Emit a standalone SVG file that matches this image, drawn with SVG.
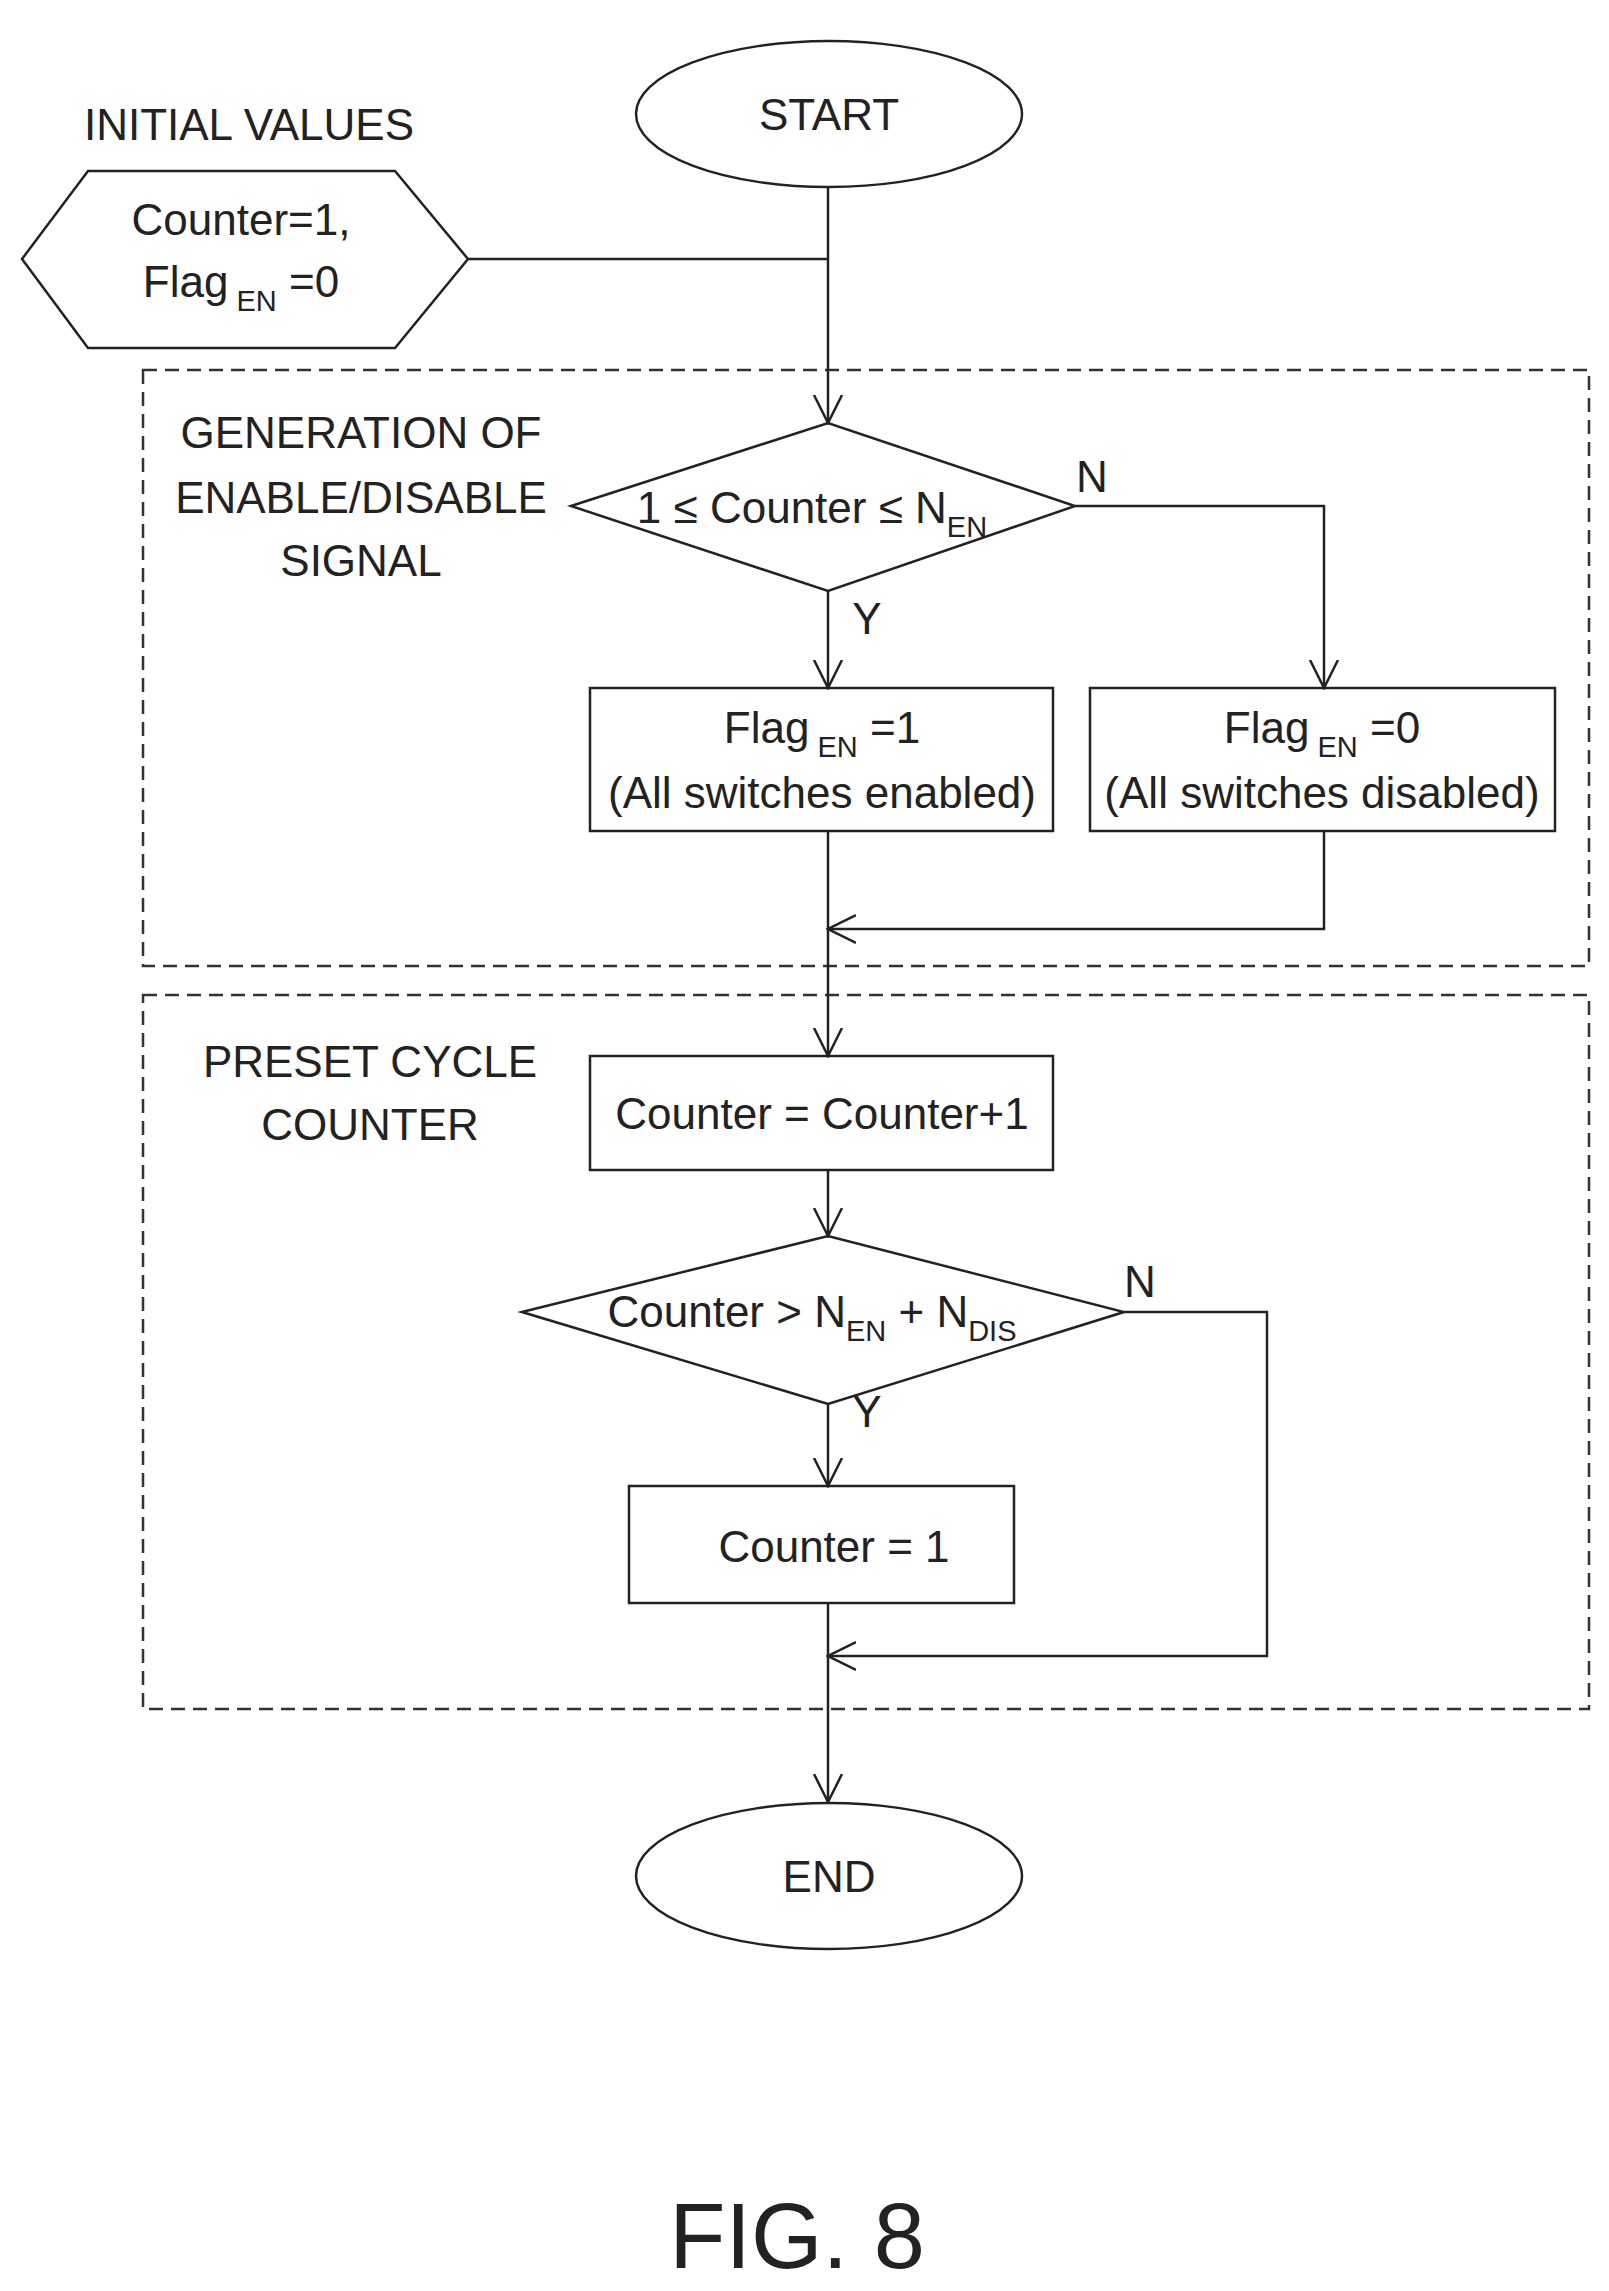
<svg xmlns="http://www.w3.org/2000/svg" width="1609" height="2291" viewBox="0 0 1609 2291">
<style>
.s{fill:none;stroke:#222;stroke-width:2.5}
.d{fill:none;stroke:#333;stroke-width:2.5;stroke-dasharray:14 8}
text{font-family:"Liberation Sans",Arial,sans-serif;font-size:44px;fill:#222;text-anchor:middle}
.sub{font-size:29px}
</style>
<defs>
<marker id="a" markerWidth="30" markerHeight="40" refX="28" refY="20" orient="auto" markerUnits="userSpaceOnUse">
<path d="M0,6 L28,20 L0,34" fill="none" stroke="#222" stroke-width="2.5"/>
</marker>
</defs>
<rect width="1609" height="2291" fill="#fff"/>
<g id="groups">
<rect class="d" x="143" y="370" width="1446" height="596"/>
<rect class="d" x="143" y="995" width="1446" height="714"/>
<text x="361" y="448">GENERATION OF</text>
<text x="361" y="513">ENABLE/DISABLE</text>
<text x="361" y="576">SIGNAL</text>
<text x="370" y="1077">PRESET CYCLE</text>
<text x="370" y="1140">COUNTER</text>
</g>
<g id="start"><ellipse class="s" cx="829" cy="114" rx="193" ry="73"/><text x="829" y="130">START</text></g>
<g id="init">
<text x="249" y="140">INITIAL VALUES</text>
<polygon class="s" points="22,259 88,171 395,171 468,259 395,348 88,348"/>
<text x="241" y="235">Counter=1,</text>
<text x="241" y="297">Flag<tspan class="sub" dy="14"> EN</tspan><tspan dy="-14"> =0</tspan></text>
</g>
<g id="dec1">
<polygon class="s" points="571,506 828,423 1075,506 828,591"/>
<text x="812" y="523">1 ≤ Counter ≤ N<tspan class="sub" dy="14">EN</tspan></text>
</g>
<g id="boxA"><rect class="s" x="590" y="688" width="463" height="143"/>
<text x="822" y="743">Flag<tspan class="sub" dy="14"> EN</tspan><tspan dy="-14"> =1</tspan></text>
<text x="822" y="808">(All switches enabled)</text></g>
<g id="boxB"><rect class="s" x="1090" y="688" width="465" height="143"/>
<text x="1322" y="743">Flag<tspan class="sub" dy="14"> EN</tspan><tspan dy="-14"> =0</tspan></text>
<text x="1322" y="808">(All switches disabled)</text></g>
<g id="inc"><rect class="s" x="590" y="1056" width="463" height="114"/><text x="822" y="1129">Counter = Counter+1</text></g>
<g id="dec2"><polygon class="s" points="522,1312 828,1236 1124,1312 828,1404"/>
<text x="812" y="1327">Counter &gt; N<tspan class="sub" dy="14">EN</tspan><tspan dy="-14"> + N</tspan><tspan class="sub" dy="14">DIS</tspan></text></g>
<g id="reset"><rect class="s" x="629" y="1486" width="385" height="117"/><text x="834" y="1562">Counter = 1</text></g>
<g id="end"><ellipse class="s" cx="829" cy="1876" rx="193" ry="73"/><text x="829" y="1892">END</text></g>
<g id="connectors">
<path class="s" d="M828,187 V423" marker-end="url(#a)"/>
<path class="s" d="M468,259 H828"/>
<path class="s" d="M828,591 V688" marker-end="url(#a)"/>
<path class="s" d="M1075,506 H1324 V688" marker-end="url(#a)"/>
<path class="s" d="M828,831 V1056" marker-end="url(#a)"/>
<path class="s" d="M1324,831 V929 H828" marker-end="url(#a)"/>
<path class="s" d="M828,1170 V1236" marker-end="url(#a)"/>
<path class="s" d="M828,1404 V1486" marker-end="url(#a)"/>
<path class="s" d="M1124,1312 H1267 V1656 H828" marker-end="url(#a)"/>
<path class="s" d="M828,1603 V1802" marker-end="url(#a)"/>
<text x="1092" y="492" font-size="40">N</text>
<text x="867" y="634" font-size="40">Y</text>
<text x="1140" y="1297" font-size="40">N</text>
<text x="867" y="1427" font-size="40">Y</text>
</g>
<text x="797" y="2268" style="font-size:92px">FIG. 8</text>
</svg>
